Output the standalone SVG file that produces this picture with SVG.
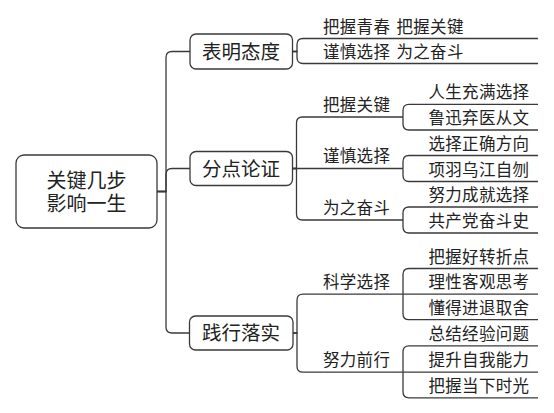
<svg xmlns="http://www.w3.org/2000/svg" width="554" height="413" viewBox="0 0 554 413">
<style>
.box{fill:#ffffff;stroke:#3a3a3a;stroke-width:1.3}
.ln{fill:none;stroke:#3a3a3a;stroke-width:1.3}
text{font-family:"Noto Sans CJK SC","Liberation Sans",sans-serif;fill:#222222}
.root{font-size:20px;text-anchor:middle}
.l1{font-size:19.5px;text-anchor:middle}
.l2{font-size:16.5px;letter-spacing:0.3px}
</style>
<rect width="554" height="413" fill="#ffffff"/>
<g id="connectors">
<path class="ln" d="M157 191.5H166V57.5Q166 51.5 172 51.5H190"/>
<path class="ln" d="M157 191.5H166V174.5Q166 168.5 172 168.5H190"/>
<path class="ln" d="M157 191.5H166V327Q166 333 172 333H189.5"/>
<path class="ln" d="M292.5 51.5H297V44.5Q297 38.5 303 38.5H538"/>
<path class="ln" d="M292.5 51.5H297V57.5Q297 63.5 303 63.5H538"/>
<path class="ln" d="M292.5 168.5H296.5V123Q296.5 117 302.5 117H403"/>
<path class="ln" d="M292.5 168.5H403"/>
<path class="ln" d="M292.5 168.5H296.5V214Q296.5 220 302.5 220H403"/>
<path class="ln" d="M403 117V110.3Q403 104.3 409 104.3H538"/>
<path class="ln" d="M403 117V124Q403 130 409 130H538"/>
<path class="ln" d="M403 168.5V161.5Q403 155.5 409 155.5H538"/>
<path class="ln" d="M403 168.5V175.5Q403 181.5 409 181.5H538"/>
<path class="ln" d="M403 220V213Q403 207 409 207H538"/>
<path class="ln" d="M403 220V227Q403 233 409 233H538"/>
<path class="ln" d="M293 333H297V300.2Q297 294.2 303 294.2H403"/>
<path class="ln" d="M293 333H297V366.2Q297 372.2 303 372.2H403"/>
<path class="ln" d="M403 294.2V274.5Q403 268.5 409 268.5H538"/>
<path class="ln" d="M403 294.2H538"/>
<path class="ln" d="M403 294.2V313.7Q403 319.7 409 319.7H538"/>
<path class="ln" d="M403 372.2V351.8Q403 345.8 409 345.8H538"/>
<path class="ln" d="M403 372.2H538"/>
<path class="ln" d="M403 372.2V391.8Q403 397.8 409 397.8H538"/>
</g>
<g id="root">
<rect class="box" x="16" y="155" width="141" height="73" rx="8"/>
<text class="root" x="86.5" y="188">关键几步</text>
<text class="root" x="86.5" y="211">影响一生</text>
</g>
<g id="n-biaoming">
<rect class="box" x="190" y="34" width="102.5" height="35" rx="6"/>
<text class="l1" x="241" y="58.5">表明态度</text>
</g>
<g id="n-fendian">
<rect class="box" x="190" y="151.5" width="102.5" height="34" rx="6"/>
<text class="l1" x="241" y="175.5">分点论证</text>
</g>
<g id="n-jianxing">
<rect class="box" x="189.5" y="316" width="103.5" height="34" rx="6"/>
<text class="l1" x="241" y="340">践行落实</text>
</g>
<g id="n-bm1"><text class="l2" x="323" y="32.5">把握青春<tspan x="396.5">把握关键</tspan></text></g>
<g id="n-bm2"><text class="l2" x="323" y="57.5">谨慎选择<tspan x="396.5">为之奋斗</tspan></text></g>
<g id="n-fd1"><text class="l2" x="323" y="110.5">把握关键</text></g>
<g id="n-fd2"><text class="l2" x="323" y="162">谨慎选择</text></g>
<g id="n-fd3"><text class="l2" x="323" y="213.5">为之奋斗</text></g>
<g id="n-fd1a"><text class="l2" x="428.5" y="98.3">人生充满选择</text></g>
<g id="n-fd1b"><text class="l2" x="428.5" y="124">鲁迅弃医从文</text></g>
<g id="n-fd2a"><text class="l2" x="428.5" y="149.5">选择正确方向</text></g>
<g id="n-fd2b"><text class="l2" x="428.5" y="175.5">项羽乌江自刎</text></g>
<g id="n-fd3a"><text class="l2" x="428.5" y="201">努力成就选择</text></g>
<g id="n-fd3b"><text class="l2" x="428.5" y="227">共产党奋斗史</text></g>
<g id="n-jx1"><text class="l2" x="323" y="288">科学选择</text></g>
<g id="n-jx2"><text class="l2" x="323" y="366">努力前行</text></g>
<g id="n-jx1a"><text class="l2" x="428.5" y="262.5">把握好转折点</text></g>
<g id="n-jx1b"><text class="l2" x="428.5" y="288.2">理性客观思考</text></g>
<g id="n-jx1c"><text class="l2" x="428.5" y="313.7">懂得进退取舍</text></g>
<g id="n-jx2a"><text class="l2" x="428.5" y="339.8">总结经验问题</text></g>
<g id="n-jx2b"><text class="l2" x="428.5" y="366.2">提升自我能力</text></g>
<g id="n-jx2c"><text class="l2" x="428.5" y="391.8">把握当下时光</text></g>
</svg>
